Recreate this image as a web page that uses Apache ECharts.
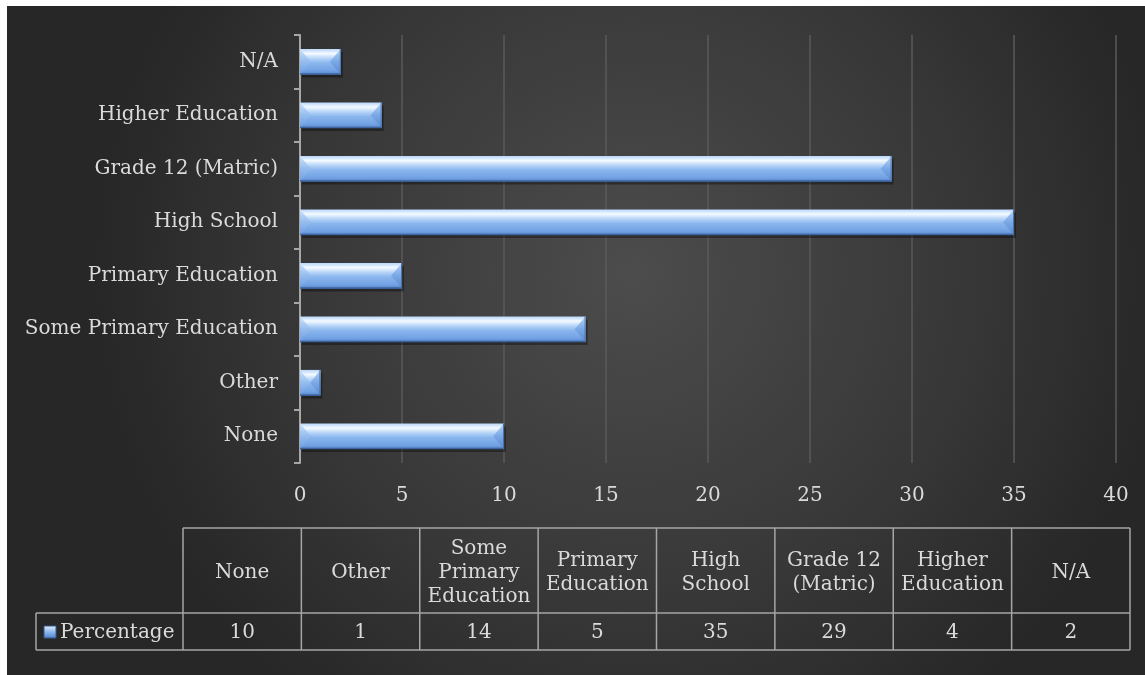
<!DOCTYPE html>
<html>
<head>
<meta charset="utf-8">
<script src="https://cdn.jsdelivr.net/npm/echarts@6/dist/echarts.min.js"></script>
<style>
  html, body { margin: 0; padding: 0; background: #ffffff; }
  #chart { width: 1145px; height: 675px; }
</style>
</head>
<body>
<div id="chart"></div>
<script>
// Education level shares (percent)
const categories = ['None', 'Other', 'Some Primary Education', 'Primary Education',
  'High School', 'Grade 12 (Matric)', 'Higher Education', 'N/A'];
const percentage = [10, 1, 14, 5, 35, 29, 4, 2];
const seriesName = 'Percentage';
const xTicks = { min: 0, max: 40, interval: 5 };

const FONT = 'DejaVu Serif';
const FS = 20;
const TEXT = '#dadada';
const LINE = '#a6a6a6';

const chart = echarts.init(document.getElementById('chart'), null, { renderer: 'canvas' });

const vgrad = (stops) => new echarts.graphic.LinearGradient(0, 0, 0, 1,
  stops.map(s => ({ offset: s[0], color: s[1] })));

// Greedy word wrap so each header line fits its table column
const measureCtx = document.createElement('canvas').getContext('2d');
function wrapWords(text, font, maxW) {
  measureCtx.font = font;
  const words = text.split(' ');
  const lines = [];
  let cur = '';
  words.forEach(w => {
    const t = cur ? cur + ' ' + w : w;
    if (cur && measureCtx.measureText(t).width > maxW) { lines.push(cur); cur = w; }
    else cur = t;
  });
  if (cur) lines.push(cur);
  return lines.join('\n');
}

// Bevelled bar drawn from the axis coordinates of each value
function bevelBar(params, api) {
  const v = api.value(0), c = api.value(1);
  const p0 = api.coord([0, c]);
  const p1 = api.coord([v, c]);
  const h = api.size([0, 1])[1] * 0.48;
  const x0 = p0[0], x1 = p1[0];
  const y0 = p0[1] - h / 2, y1 = p0[1] + h / 2, ym = p0[1];
  const b = Math.min(11, (x1 - x0) / 2);
  const poly = (pts, fill) => ({ type: 'polygon', shape: { points: pts }, style: { fill: fill } });
  return {
    type: 'group',
    children: [
      { type: 'rect', shape: { x: x0 + 2, y: y0 + 3, width: x1 - x0, height: h },
        style: { fill: 'rgba(0,0,0,0.35)' } },
      { type: 'rect', shape: { x: x0, y: y0, width: x1 - x0, height: h },
        style: { fill: vgrad([[0, '#b7d5fa'], [0.18, '#f4faff'], [0.38, '#b3d2f7'],
          [0.55, '#8ab6ee'], [0.85, '#72a2e4'], [1, '#5584ca']]) } },
      poly([[x0, y0], [x0 + b, ym], [x0, y1]],
        vgrad([[0, '#cfe4fc'], [0.5, '#95bcee'], [1, '#6e9ee0']])),
      poly([[x1, y0], [x1 - b, ym], [x1, y1]],
        vgrad([[0, '#b5d3f7'], [0.5, '#7aa8e6'], [1, '#5989cf']])),
      { type: 'line', shape: { x1: x0, y1: y1 - 0.5, x2: x1, y2: y1 - 0.5 },
        style: { stroke: '#3d649c', lineWidth: 1.5 } },
      { type: 'line', shape: { x1: x1 - 0.5, y1: y0, x2: x1 - 0.5, y2: y1 },
        style: { stroke: '#4a72aa', lineWidth: 1 } }
    ]
  };
}

// Data table under the chart
function buildTable() {
  const left = 183, right = 1130, top = 528, mid = 613, bottom = 650, keyLeft = 36;
  const colW = (right - left) / categories.length;
  const lineStyle = { stroke: LINE, lineWidth: 1.5 };
  const font = FS + 'px "' + FONT + '"';
  const els = [];
  const hline = (xa, xb, y) => els.push({ type: 'line', shape: { x1: xa, y1: y, x2: xb, y2: y }, style: lineStyle });
  const vline = (x, ya, yb) => els.push({ type: 'line', shape: { x1: x, y1: ya, x2: x, y2: yb }, style: lineStyle });
  hline(left, right, top);
  hline(keyLeft, right, mid);
  hline(keyLeft, right, bottom);
  vline(keyLeft, mid, bottom);
  for (let i = 0; i <= categories.length; i++) vline(left + i * colW, top, bottom);
  categories.forEach((c, i) => {
    const cx = left + (i + 0.5) * colW;
    els.push({ type: 'text', x: cx, y: (top + mid) / 2 + 2,
      style: { text: wrapWords(c, font, colW - 6), align: 'center', verticalAlign: 'middle',
        fill: TEXT, font: font, lineHeight: 24 } });
    els.push({ type: 'text', x: cx, y: (mid + bottom) / 2 + 1,
      style: { text: String(percentage[i]), align: 'center', verticalAlign: 'middle',
        fill: TEXT, font: font } });
  });
  els.push({ type: 'rect', shape: { x: 44, y: 626, width: 12, height: 12 },
    style: { fill: vgrad([[0, '#e6f2ff'], [0.5, '#8db6ec'], [1, '#4f80c8']]),
      stroke: '#35598c', lineWidth: 1 } });
  els.push({ type: 'text', x: 60, y: (mid + bottom) / 2 + 1,
    style: { text: seriesName, align: 'left', verticalAlign: 'middle', fill: TEXT, font: font } });
  return els;
}

const option = {
  animation: false,
  backgroundColor: '#ffffff',
  graphic: [
    { type: 'rect', z: -10, shape: { x: 7, y: 6, width: 1145 - 7, height: 675 - 6 },
      style: { fill: new echarts.graphic.RadialGradient(0.55, 0.4, 0.8, [
        { offset: 0, color: '#4c4c4c' }, { offset: 0.6, color: '#383838' }, { offset: 1, color: '#272727' }]) } },
    ...buildTable()
  ],
  grid: { left: 300, right: 29, top: 35, bottom: 212, containLabel: false },
  xAxis: {
    type: 'value', min: xTicks.min, max: xTicks.max, interval: xTicks.interval,
    axisLine: { show: false }, axisTick: { show: false },
    axisLabel: { color: TEXT, fontFamily: FONT, fontSize: FS, margin: 23 },
    splitLine: { show: true, lineStyle: { color: '#5a5a5a', width: 1.5 } }
  },
  yAxis: {
    type: 'category', data: categories,
    axisLine: { show: true, lineStyle: { color: LINE, width: 2 } },
    axisTick: { show: true, inside: false, length: 6, lineStyle: { color: LINE, width: 2 } },
    axisLabel: { color: TEXT, fontFamily: FONT, fontSize: FS, margin: 22 },
    splitLine: { show: false }
  },
  series: [{
    name: seriesName,
    type: 'custom',
    renderItem: bevelBar,
    encode: { x: 0, y: 1 },
    data: percentage.map((v, i) => [v, i])
  }]
};
chart.setOption(option);
</script>
</body>
</html>
